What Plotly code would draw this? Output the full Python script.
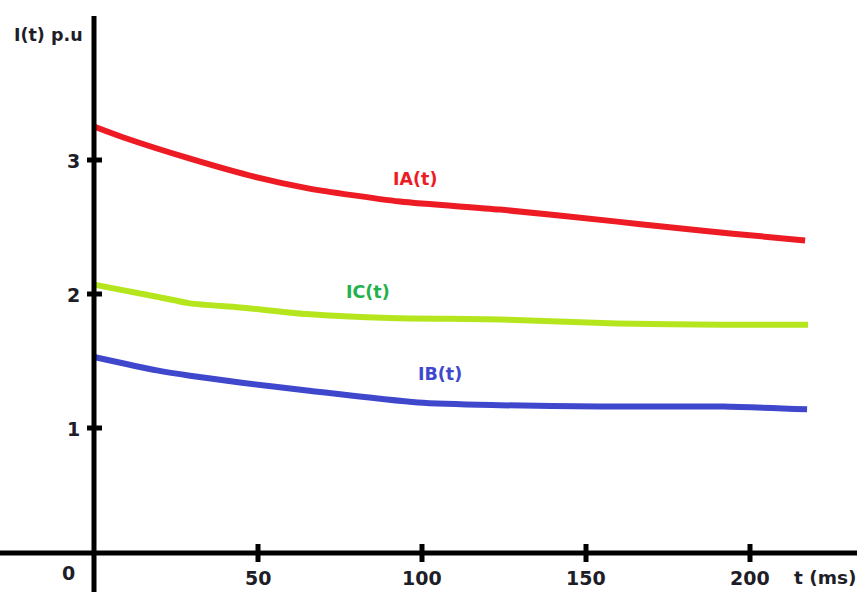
import plotly.graph_objects as go

# ---- data ----
t_ia = [0, 8.8, 29.3, 49.7, 64.9, 93.3, 123.8, 159.5, 174.7, 194.8, 216.8]
ia = [3.25, 3.17, 3.01, 2.87, 2.79, 2.69, 2.63, 2.54, 2.50, 2.45, 2.40]

t_ic = [0, 19.2, 29.3, 44.5, 64.9, 90.2, 123.8, 159.5, 191.8, 217.7]
ic = [2.07, 1.98, 1.93, 1.90, 1.85, 1.82, 1.81, 1.78, 1.77, 1.77]

t_ib = [0, 19.2, 29.3, 44.5, 64.9, 98.8, 123.8, 154.3, 191.8, 217.4]
ib = [1.53, 1.43, 1.39, 1.34, 1.28, 1.19, 1.17, 1.16, 1.16, 1.14]

x_ticks = [50, 100, 150, 200]
x_tick_labels = ["50", "100", "150", "200"]
y_ticks = [1, 2, 3]
y_tick_labels = ["1", "2", "3"]

W, H = 859, 592
X0_PX, PX_PER_MS = 94, 3.28
Y0_PX, PX_PER_UNIT = 562, 134

def xr(px):
    return (px - X0_PX) / PX_PER_MS

def yr(py):
    return (Y0_PX - py) / PX_PER_UNIT

fig = go.Figure()
series = [
    (t_ia, ia, "#ED1C24", "IA(t)"),
    (t_ic, ic, "#B5E61D", "IC(t)"),
    (t_ib, ib, "#3F48CC", "IB(t)"),
]
for tx, vy, col, name in series:
    fig.add_trace(go.Scatter(x=tx, y=vy, mode="lines", name=name,
                             line=dict(color=col, width=6, shape="spline", smoothing=0.7),
                             showlegend=False, hoverinfo="skip"))

shapes = []
# y axis line
shapes.append(dict(type="line", xref="x", yref="paper", x0=0, x1=0, y0=0, y1=1 - 16 / H,
                   line=dict(color="black", width=5)))
# x axis line
x_axis_v = yr(553)
shapes.append(dict(type="line", xref="paper", yref="y", x0=0, x1=857 / W, y0=x_axis_v, y1=x_axis_v,
                   line=dict(color="black", width=5)))
# x ticks
for xv in x_ticks:
    shapes.append(dict(type="line", xref="x", yref="y", x0=xv, x1=xv,
                       y0=yr(562), y1=yr(544), line=dict(color="black", width=5)))
# y ticks
for yv in y_ticks:
    shapes.append(dict(type="line", xref="x", yref="y", x0=xr(87), x1=xr(102),
                       y0=yv, y1=yv, line=dict(color="black", width=5)))

font_family = "DejaVu Sans"
txt_col = "#1e1e28"
ann = []
def label(text, px, py, color=txt_col, size=18):
    ann.append(dict(text=text, x=px / W, y=1 - py / H, xref="paper", yref="paper",
                    xanchor="center", yanchor="middle", showarrow=False,
                    font=dict(family=font_family, size=size, color=color, weight="bold")))

label("I(t) p.u", 48, 35, size=17.5)
for yv, lab in zip(y_ticks, y_tick_labels):
    label(lab, 73, Y0_PX - yv * PX_PER_UNIT + 1, size=19)
label("0", 68, 573, size=19)
for xv, lab in zip(x_ticks, x_tick_labels):
    label(lab, X0_PX + xv * PX_PER_MS, 578, size=19)
label("t (ms)", 825, 577, size=18.5)
label("IA(t)", 415, 179, color="#ED1C24", size=17.5)
label("IC(t)", 368, 292, color="#22B14C", size=17.5)
label("IB(t)", 440, 374, color="#3F48CC", size=17.5)

fig.update_layout(
    width=W, height=H,
    margin=dict(l=0, r=0, t=0, b=0),
    paper_bgcolor="white", plot_bgcolor="white",
    xaxis=dict(range=[xr(0), xr(W)], visible=False, fixedrange=True),
    yaxis=dict(range=[yr(H), yr(0)], visible=False, fixedrange=True),
    shapes=shapes, annotations=ann,
)
fig.write_html("out.html", config={"displayModeBar": False},
               post_script="document.body.style.margin='0';document.body.style.overflow='hidden';")
